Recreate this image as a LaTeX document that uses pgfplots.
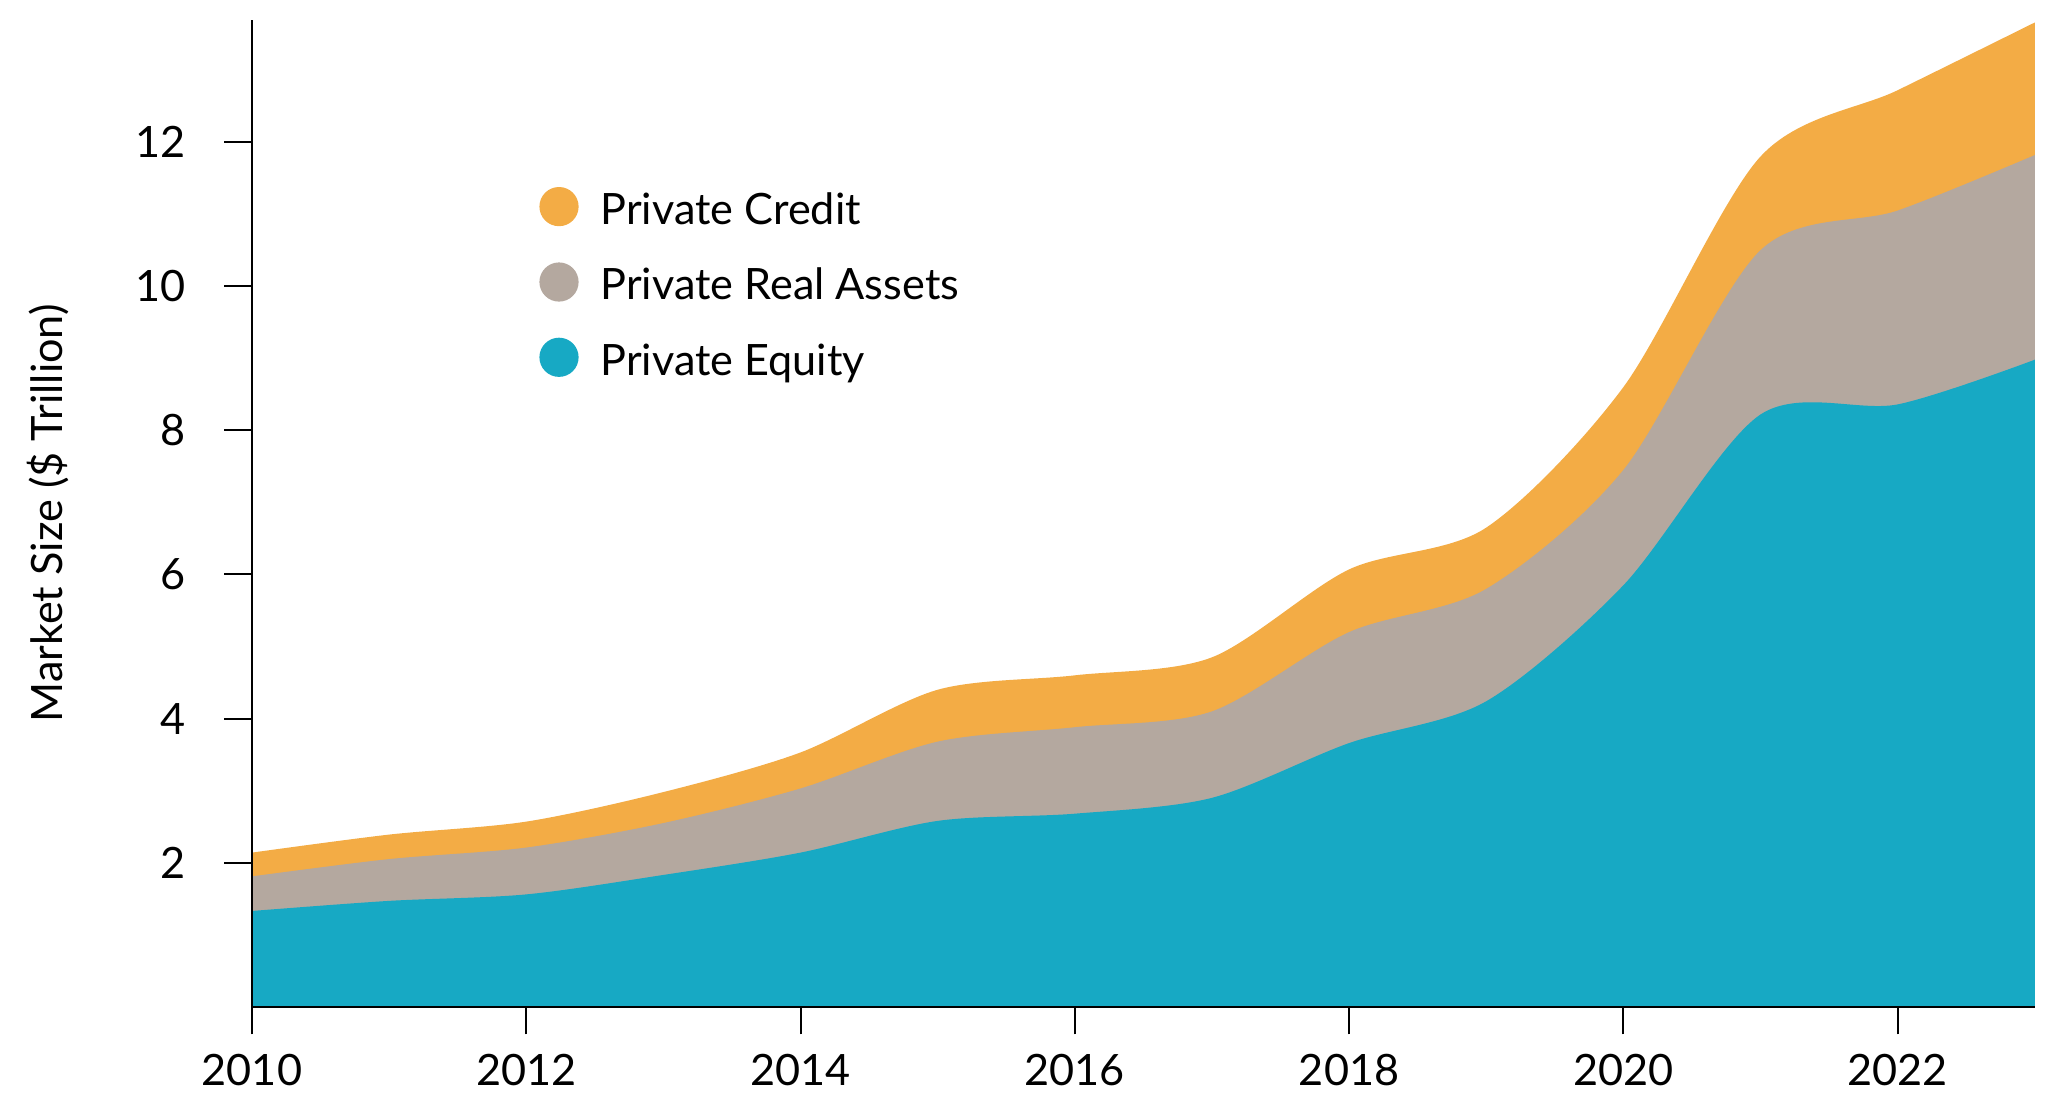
\documentclass[border=0pt]{standalone}
\usepackage{fontspec}
\setmainfont{Lato}
\usepackage{pgfplots}
\usepackage{pgfplotstable}
\pgfplotsset{compat=1.18}

\definecolor{pcredit}{HTML}{F3AC45}
\definecolor{preal}{HTML}{B4A89F}
\definecolor{pequity}{HTML}{17A9C4}

% cumulative tops of each layer ($ trillion)
\pgfplotstableread{
year equity real credit
2010 1.33 1.81 2.14
2011 1.47 2.05 2.39
2012 1.56 2.21 2.57
2013 1.83 2.55 2.98
2014 2.14 3.03 3.53
2015 2.58 3.68 4.40
2016 2.68 3.88 4.60
2017 2.90 4.10 4.85
2018 3.66 5.20 6.07
2019 4.24 5.80 6.65
2020 5.85 7.45 8.60
2021 8.22 10.50 11.80
2022 8.36 11.05 12.72
2023 8.98 11.82 13.66
}\totals

\begin{document}
\begin{tikzpicture}
\begin{axis}[
    name=ax,
    scale only axis,
    width=445.7pt,
    height=246.8pt,
    xmin=2010, xmax=2023,
    ymin=0, ymax=13.7,
    axis lines=left,
    axis line style={-, line width=0.5pt, black},
    axis on top,
    xtick={2010,2012,...,2022},
    ytick={2,4,...,12},
    tick align=outside,
    major tick length=6.9pt,
    tick style={black, line width=0.5pt},
    font=\fontsize{10.8}{13}\selectfont,
    /pgf/number format/assume math mode=true,
    x tick label style={/pgf/number format/1000 sep={}},
    xticklabel shift=1.5pt,
    yticklabel shift=6.3pt,
    ylabel={Market Size (\$ Trillion)},
    ylabel style={at={([xshift=-50.9pt]axis description cs:0,0.5)}, anchor=center},
    legend style={draw=none, fill=none, inner sep=0pt,
        at={(axis cs:2012.09,11.42)}, anchor=north west,
        row sep=5.4pt, column sep=3.5pt,
        font=\fontsize{10.8}{13}\selectfont},
    legend cell align=left,
    legend image code/.code={\fill[#1] (4.9pt,1.25pt) circle (4.9pt);},
]
\addplot [draw=none, fill=pcredit, smooth] table [x=year, y=credit] {\totals} \closedcycle;
\addplot [draw=none, fill=preal, smooth] table [x=year, y=real] {\totals} \closedcycle;
\addplot [draw=none, fill=pequity, smooth] table [x=year, y=equity] {\totals} \closedcycle;
\legend{Private Credit, Private Real Assets, Private Equity}
\end{axis}
\pgfresetboundingbox
\path[use as bounding box] ([xshift=-63pt,yshift=-27.1pt]ax.south west) rectangle ([xshift=3.3pt,yshift=4.9pt]ax.north east);
\end{tikzpicture}
\end{document}
